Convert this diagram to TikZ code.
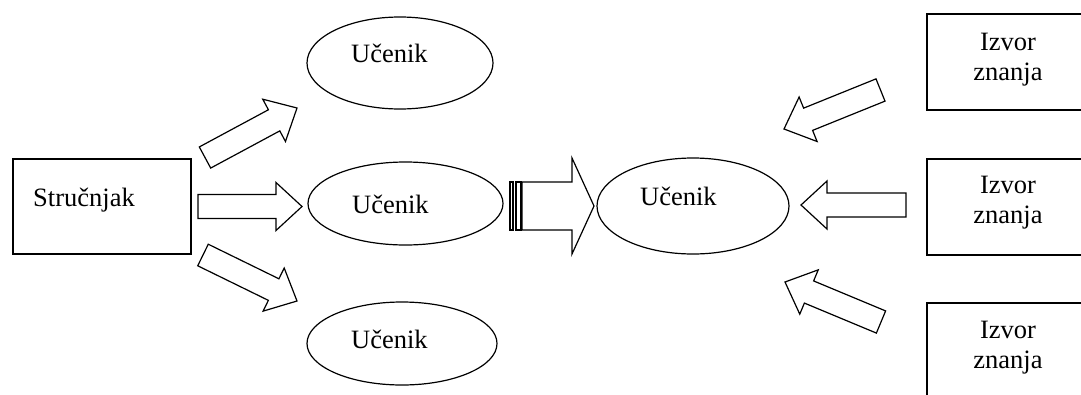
\documentclass[tikz,border=0pt]{standalone}
\usepackage{fontspec}
\setmainfont{Liberation Serif}
\usetikzlibrary{calc,shapes.geometric}

\tikzset{
  lbl/.style={font=\fontsize{26.5}{30}\selectfont, inner sep=0pt},
  ucenik/.style={draw, ellipse, line width=1.2pt, inner sep=0pt},
  srcbox/.style={draw, line width=1.6pt, inner sep=0pt, anchor=north west},
  fat/.style={draw, line width=1.2pt, line join=miter, fill=white},
}

% hollow block arrow from tail point #1 to tip point #2
\newcommand\fatarrow[2]{%
  \coordinate (hb) at ($(#2)!26pt!(#1)$);
  \draw[fat] ($(#1)!12pt!90:(#2)$) -- ($(hb)!12pt!90:(#2)$) -- ($(hb)!24pt!90:(#2)$)
    -- (#2) -- ($(hb)!24pt!-90:(#2)$) -- ($(hb)!12pt!-90:(#2)$)
    -- ($(#1)!12pt!-90:(#2)$) -- cycle;
}

\begin{document}
\begin{tikzpicture}[x=1pt,y=-1pt]
\useasboundingbox (0,0) rectangle (1081,394);

% expert box
\node[srcbox, minimum width=178pt, minimum height=95pt] (exp) at (12,158) {};
\node[lbl, anchor=base west] (expt) at (33,206.5) {Stručnjak};

% learners on the left
\node[ucenik, minimum width=186pt, minimum height=92pt] (u1) at (400,63) {};
\node[ucenik, minimum width=195pt, minimum height=83pt] (u2) at (405.5,203.5) {};
\node[ucenik, minimum width=190pt, minimum height=83pt] (u3) at (402,343.5) {};
\node[lbl, anchor=base west] (u1t) at (351,62) {Učenik};
\node[lbl, anchor=base west] (u2t) at (352,213) {Učenik};
\node[lbl, anchor=base west] (u3t) at (351,348) {Učenik};

% learner on the right
\node[ucenik, minimum width=192pt, minimum height=96pt] (u4) at (693,206) {};
\node[lbl, anchor=base west] (u4t) at (640,205) {Učenik};

% sources of knowledge
\node[srcbox, minimum width=164pt, minimum height=96pt] (s1) at (926,13) {};
\node[srcbox, minimum width=164pt, minimum height=96pt] (s2) at (926,158) {};
\node[srcbox, minimum width=164pt, minimum height=96pt] (s3) at (926,302) {};
\node[lbl, anchor=base] (s1a) at (1008,50) {Izvor};
\node[lbl, anchor=base] (s1b) at (1008,80) {znanja};
\node[lbl, anchor=base] (s2a) at (1008,193) {Izvor};
\node[lbl, anchor=base] (s2b) at (1008,223) {znanja};
\node[lbl, anchor=base] (s3a) at (1008,338) {Izvor};
\node[lbl, anchor=base] (s3b) at (1008,368) {znanja};

% arrow end points
\coordinate (a1s) at (205,157.5);  \coordinate (a1e) at (297,108);
\coordinate (a2s) at (198,206.5);  \coordinate (a2e) at (302,206.5);
\coordinate (a3s) at (203,255);    \coordinate (a3e) at (297,301);
\coordinate (a4s) at (880.5,90);   \coordinate (a4e) at (784,129);
\coordinate (a5s) at (906,205);    \coordinate (a5e) at (801,205);
\coordinate (a6s) at (881,322);    \coordinate (a6e) at (785,282);

\fatarrow{a1s}{a1e}
\fatarrow{a2s}{a2e}
\fatarrow{a3s}{a3e}
\fatarrow{a4s}{a4e}
\fatarrow{a5s}{a5e}
\fatarrow{a6s}{a6e}

% striped arrow between the middle learners
\draw[fat] (510,182) rectangle (513,230);
\draw[fat] (516,182) rectangle (521,230);
\draw[fat] (522,182) -- (572,182) -- (572,158) -- (594,206)
  -- (572,254) -- (572,230) -- (522,230) -- cycle;
\end{tikzpicture}
\end{document}
